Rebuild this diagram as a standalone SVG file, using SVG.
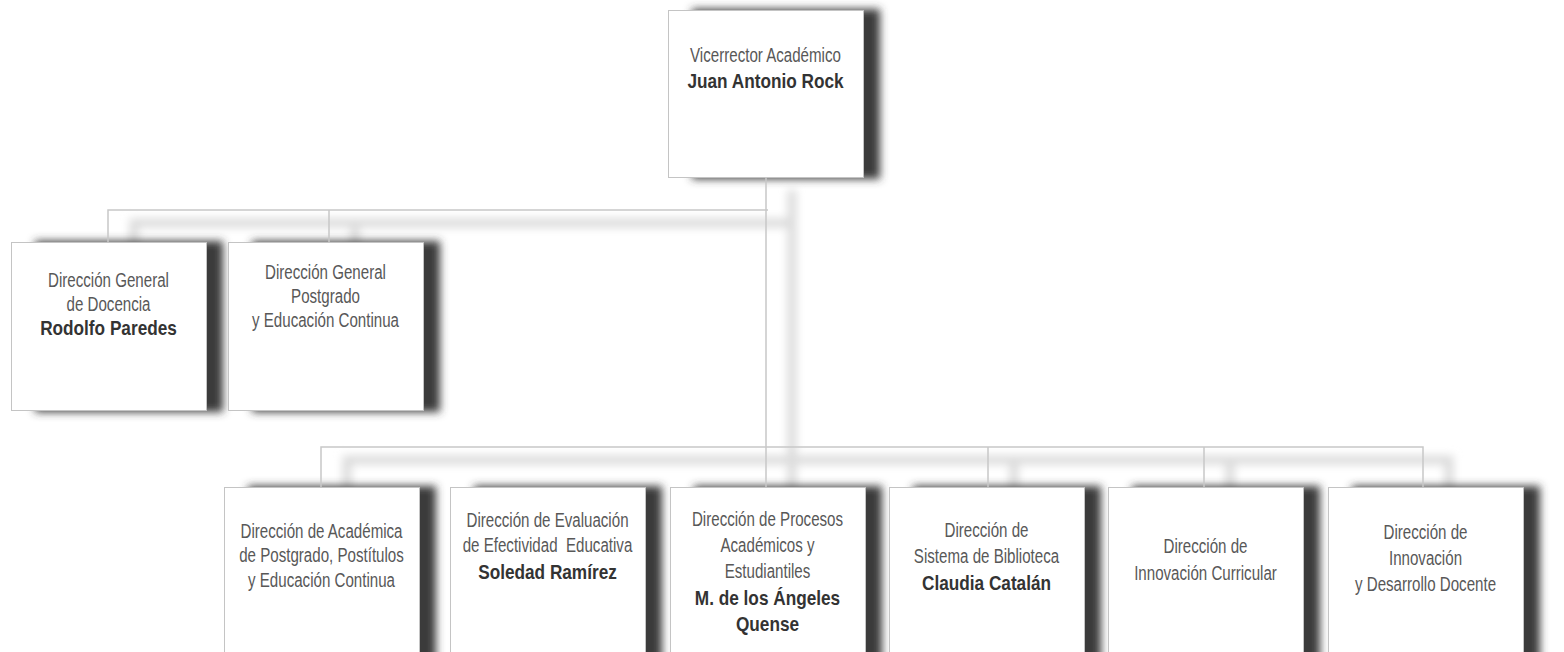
<svg xmlns="http://www.w3.org/2000/svg" width="1564" height="652" viewBox="0 0 1564 652">
<defs>
<filter id="bs" x="-20%" y="-20%" width="140%" height="140%"><feGaussianBlur stdDeviation="4"/></filter>
<filter id="ls" x="0" y="0" width="1564" height="652" filterUnits="userSpaceOnUse"><feGaussianBlur stdDeviation="4.5"/></filter>
</defs>
<style>
.sh{fill:#3a3a3a;filter:url(#bs)}
.box{fill:#fff;stroke:#c4c4c4;stroke-width:1}
.ln{fill:none;stroke:#c8c8c8;stroke-width:1.5}
.lsh{fill:none;stroke:#dcdcdc;stroke-width:9}
.t{font-family:"Liberation Sans",Arial,sans-serif;font-size:21px;fill:#585858;text-anchor:middle}
.b{font-weight:bold;fill:#333}
</style>
<rect width="1564" height="652" fill="#fff"/>
<g id="connector-shadows" transform="translate(26 13)" filter="url(#ls)">
<path class="lsh" d="M766 177V487M108 242V210H768M329 210V242M321 487V447H1423V487M988 447V487M1204 447V487"/>
</g>
<g id="n-vicerrector">
<rect class="sh" x="692" y="9" width="188" height="170"/>
<rect class="box" x="668.5" y="10.5" width="195" height="167"/>
<text class="t" transform="translate(765.5 62) scale(0.72 1)">Vicerrector Académico</text>
<text class="t b" transform="translate(765.5 88) scale(0.82 1)">Juan Antonio Rock</text>
</g>
<g id="n-docencia">
<rect class="sh" x="35" y="241" width="188" height="171"/>
<rect class="box" x="11.5" y="242.5" width="195" height="168"/>
<text class="t" transform="translate(108.5 287) scale(0.72 1)">Dirección General</text>
<text class="t" transform="translate(108.5 311) scale(0.72 1)">de Docencia</text>
<text class="t b" transform="translate(108.5 335) scale(0.82 1)">Rodolfo Paredes</text>
</g>
<g id="n-postgrado">
<rect class="sh" x="252" y="241" width="188" height="171"/>
<rect class="box" x="228.5" y="242.5" width="195" height="168"/>
<text class="t" transform="translate(325.5 279) scale(0.72 1)">Dirección General</text>
<text class="t" transform="translate(325.5 303) scale(0.72 1)">Postgrado</text>
<text class="t" transform="translate(325.5 327) scale(0.72 1)">y Educación Continua</text>
</g>
<g id="n-academica">
<rect class="sh" x="248" y="486" width="188" height="210"/>
<rect class="box" x="224.5" y="487.5" width="195" height="200"/>
<text class="t" transform="translate(321.5 538) scale(0.72 1)">Dirección de Académica</text>
<text class="t" transform="translate(321.5 562) scale(0.72 1)">de Postgrado, Postítulos</text>
<text class="t" transform="translate(321.5 587) scale(0.72 1)">y Educación Continua</text>
</g>
<g id="n-evaluacion">
<rect class="sh" x="474" y="486" width="188" height="210"/>
<rect class="box" x="450.5" y="487.5" width="195" height="200"/>
<text class="t" transform="translate(547.5 527) scale(0.72 1)">Dirección de Evaluación</text>
<text class="t" style="white-space:pre" transform="translate(547.5 552) scale(0.72 1)">de Efectividad  Educativa</text>
<text class="t b" transform="translate(547.5 579) scale(0.82 1)">Soledad Ramírez</text>
</g>
<g id="n-procesos">
<rect class="sh" x="694" y="486" width="188" height="210"/>
<rect class="box" x="670.5" y="487.5" width="195" height="200"/>
<text class="t" transform="translate(767.5 526) scale(0.72 1)">Dirección de Procesos</text>
<text class="t" transform="translate(767.5 552) scale(0.72 1)">Académicos y</text>
<text class="t" transform="translate(767.5 578) scale(0.72 1)">Estudiantiles</text>
<text class="t b" transform="translate(767.5 605) scale(0.82 1)">M. de los Ángeles</text>
<text class="t b" transform="translate(767.5 631) scale(0.82 1)">Quense</text>
</g>
<g id="n-biblioteca">
<rect class="sh" x="913" y="486" width="188" height="210"/>
<rect class="box" x="889.5" y="487.5" width="195" height="200"/>
<text class="t" transform="translate(986.5 537) scale(0.72 1)">Dirección de</text>
<text class="t" transform="translate(986.5 563) scale(0.72 1)">Sistema de Biblioteca</text>
<text class="t b" transform="translate(986.5 590) scale(0.82 1)">Claudia Catalán</text>
</g>
<g id="n-curricular">
<rect class="sh" x="1132" y="486" width="188" height="210"/>
<rect class="box" x="1108.5" y="487.5" width="195" height="200"/>
<text class="t" transform="translate(1205.5 553) scale(0.72 1)">Dirección de</text>
<text class="t" transform="translate(1205.5 580) scale(0.72 1)">Innovación Curricular</text>
</g>
<g id="n-docente">
<rect class="sh" x="1352" y="486" width="188" height="210"/>
<rect class="box" x="1328.5" y="487.5" width="195" height="200"/>
<text class="t" transform="translate(1425.5 539) scale(0.72 1)">Dirección de</text>
<text class="t" transform="translate(1425.5 565) scale(0.72 1)">Innovación</text>
<text class="t" transform="translate(1425.5 591) scale(0.72 1)">y Desarrollo Docente</text>
</g>
<g id="connectors">
<path class="ln" d="M766 177V487M108 242V210H768M329 210V242M321 487V447H1423V487M988 447V487M1204 447V487"/>
</g>
</svg>
